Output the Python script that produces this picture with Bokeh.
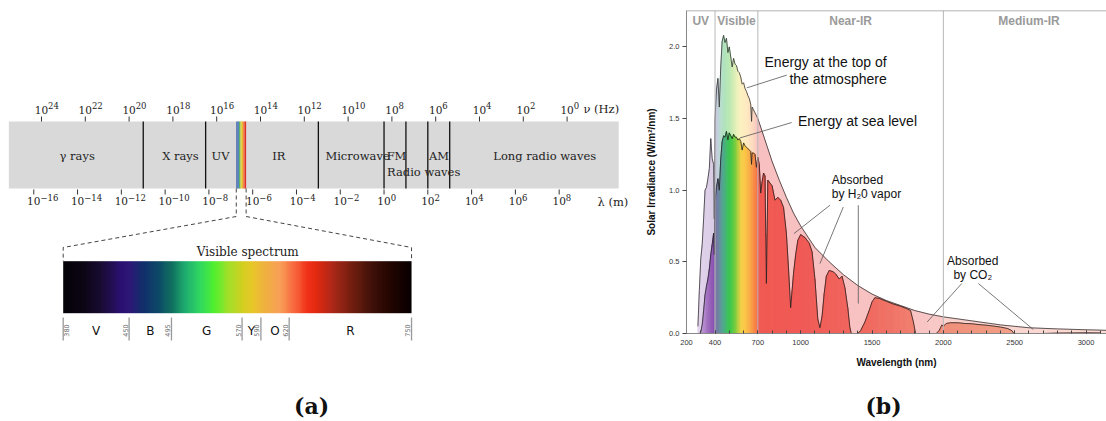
import math
import numpy as np
from bokeh.plotting import figure
from bokeh.layouts import row, column
from bokeh.models import Range1d, FixedTicker, Span, LinearColorMapper, ColumnDataSource
from bokeh.core.properties import value
from bokeh.embed import file_html
from bokeh.resources import INLINE

# ================= DATA : panel (a) =================
freq_exponents = [24, 22, 20, 18, 16, 14, 12, 10, 8, 6, 4, 2, 0]          # log10(nu / Hz)
wavelength_exponents = [-16, -14, -12, -10, -8, -6, -4, -2, 0, 2, 4, 6, 8]  # log10(lambda / m)
band_extent = [-17.14, 10.72]
band_dividers = [-11.0, -8.15, -3.0, 0.0, 1.0, 2.0, 3.0]
visible_slice = [-6.75, -6.30]
band_names = ["γ rays", "X rays", "UV", "IR", "Microwave", "FM", "AM", "Long radio waves"]
band_name_lam = [-14.02, -9.30, -7.47, -4.81, -1.21, 0.57, 2.51, 7.34]
radio_name = "Radio waves"
radio_name_lam = 1.81

vis_bounds_nm = [380, 450, 495, 570, 590, 620, 750]
vis_letters = ["V", "B", "G", "Y", "O", "R"]

# ================= DATA : panel (b) =================
wl_toa = [280, 290, 300, 310, 320, 330, 340, 350, 360, 370, 380, 390, 395, 400, 410, 420, 430, 440,
          450, 460, 470, 480, 490, 500, 510, 520, 530, 540, 550, 560, 570, 580, 590, 600, 610, 620,
          630, 640, 650, 656, 660, 670, 680, 690, 700, 750, 800, 850, 900, 950, 1000, 1100, 1200,
          1300, 1400, 1500, 1600, 1700, 1800, 1900, 2000, 2200, 2400, 2600, 2800, 3000, 3150]
irr_toa = [0.05, 0.30, 0.52, 0.62, 0.80, 1.00, 1.02, 1.08, 1.15, 1.36, 1.22, 1.18, 0.80, 1.50, 1.70,
           1.78, 1.58, 1.86, 2.04, 2.08, 2.03, 2.06, 1.96, 2.00, 1.93, 1.86, 1.92, 1.88, 1.87, 1.83,
           1.82, 1.79, 1.74, 1.75, 1.71, 1.69, 1.66, 1.64, 1.60, 1.48, 1.58, 1.56, 1.54, 1.52, 1.50,
           1.35, 1.20, 1.07, 0.95, 0.84, 0.75, 0.60, 0.50, 0.41, 0.335, 0.275, 0.23, 0.195, 0.16,
           0.135, 0.116, 0.088, 0.060, 0.040, 0.032, 0.026, 0.022]

wl_sea = [290, 300, 310, 320, 330, 340, 350, 360, 370, 380, 390, 395, 400, 410, 420, 430, 440, 450,
          460, 470, 480, 490, 500, 510, 520, 530, 540, 550, 560, 570, 580, 590, 600, 610, 620, 630,
          640, 650, 656, 660, 670, 680, 690, 700, 710, 720, 730, 740, 750, 760, 765, 770, 800, 820,
          840, 860, 880, 900, 915, 930, 940, 950, 965, 980, 1000, 1030, 1060, 1080, 1100, 1120, 1135,
          1150, 1165, 1180, 1200, 1230, 1250, 1270, 1290, 1310, 1330, 1345, 1355, 1400, 1420, 1450,
          1480, 1500, 1520, 1550, 1600, 1650, 1700, 1740, 1770, 1790, 1805, 1950, 1970, 1990, 2000,
          2020, 2050, 2100, 2150, 2200, 2250, 2300, 2350, 2400, 2450, 2480, 2495, 2700, 2800, 2900,
          3000, 3100]
irr_sea = [0.0, 0.01, 0.06, 0.16, 0.27, 0.33, 0.38, 0.45, 0.55, 0.62, 0.70, 0.55, 0.92, 1.02, 1.08,
           1.00, 1.22, 1.34, 1.38, 1.37, 1.41, 1.35, 1.40, 1.38, 1.36, 1.39, 1.37, 1.37, 1.35, 1.36,
           1.34, 1.28, 1.33, 1.31, 1.30, 1.29, 1.28, 1.27, 1.18, 1.26, 1.26, 1.25, 1.16, 1.23, 1.18,
           0.98, 1.06, 1.12, 1.10, 0.35, 0.70, 1.07, 1.03, 0.93, 0.95, 0.93, 0.88, 0.70, 0.45, 0.18,
           0.30, 0.42, 0.55, 0.65, 0.69, 0.67, 0.63, 0.57, 0.38, 0.10, 0.04, 0.12, 0.28, 0.40, 0.44,
           0.43, 0.41, 0.38, 0.40, 0.32, 0.18, 0.04, 0.0, 0.0, 0.02, 0.08, 0.16, 0.22, 0.25, 0.245,
           0.225, 0.205, 0.19, 0.175, 0.16, 0.08, 0.0, 0.0, 0.02, 0.06, 0.05, 0.07, 0.075, 0.075,
           0.07, 0.068, 0.062, 0.058, 0.052, 0.045, 0.035, 0.02, 0.0, 0.0, 0.003, 0.004, 0.005, 0.004]

region_edges = [200, 400, 700, 2000, 3200]
region_names = ["UV", "Visible", "Near-IR", "Medium-IR"]

# ================= STYLE =================
SERIF = "DejaVu Serif"
SANS = "Liberation Sans"

rainbow_colors = ["#3f5fa8", "#4f86c6", "#5cae52", "#dcd83e", "#f2b232", "#f06a30", "#e23028"]

vis_stops = [(380, "#050208"), (400, "#0c0514"), (420, "#1a0c34"), (440, "#2a1070"), (450, "#2c1878"),
             (465, "#10306a"), (480, "#0c4868"), (495, "#107060"), (510, "#20b070"), (525, "#30d860"),
             (540, "#50f030"), (555, "#a0e028"), (570, "#d0d020"), (580, "#e8c828"), (595, "#f0b040"),
             (610, "#f8a058"), (625, "#f86a40"), (640, "#f03018"), (650, "#e02810"), (665, "#b02818"),
             (685, "#782010"), (710, "#3c1008"), (730, "#200400"), (750, "#080000")]

pale_stops = [(280, "#e4d4ec"), (390, "#d8cce4"), (410, "#c8c8e0"), (440, "#b8dcd0"), (470, "#b0e4bc"),
              (500, "#b8e8b4"), (530, "#d0ecb4"), (560, "#eef2bc"), (590, "#fdf0c0"), (630, "#fee8c0"),
              (670, "#fcd8c0"), (700, "#f9c4c0"), (720, "#f8c0c0"), (1900, "#f8c4c4"), (2100, "#fad2ce"),
              (3200, "#fadcd6")]

sat_stops = [(280, "#c8b0dc"), (320, "#b890d0"), (360, "#9c68bc"), (395, "#8850b0"), (405, "#7c70a8"),
             (430, "#6c88a0"), (460, "#50a890"), (490, "#40c060"), (510, "#3cc84c"), (540, "#70cc40"),
             (565, "#b8d040"), (585, "#f0d048"), (610, "#fcc848"), (650, "#f8a848"), (680, "#f88848"),
             (699, "#f87048"), (701, "#f05a52"), (1000, "#f05a56"), (1500, "#f06a60"), (1800, "#f08070"),
             (1950, "#f08c78"), (2500, "#f2a088"), (3200, "#f2a890")]


def hex2rgb(h):
    h = h.lstrip("#")
    return [int(h[i:i + 2], 16) for i in (0, 2, 4)]


def color_at(stops, x):
    xs = [s[0] for s in stops]
    if x <= xs[0]:
        return stops[0][1]
    if x >= xs[-1]:
        return stops[-1][1]
    for i in range(len(xs) - 1):
        if xs[i] <= x <= xs[i + 1]:
            t = (x - xs[i]) / (xs[i + 1] - xs[i])
            a, b = hex2rgb(stops[i][1]), hex2rgb(stops[i + 1][1])
            c = [round(a[k] + (b[k] - a[k]) * t) for k in range(3)]
            return "#%02x%02x%02x" % tuple(c)


def exp_text(e):
    return str(e).replace("-", "−")


TOTAL_H = 421

# ================= PANEL (a) =================
WA = 640
LAM0, LAM1 = -17.521, 11.716          # log10(lambda) at frame edges
pa = figure(width=WA, height=TOTAL_H, x_range=Range1d(LAM0, LAM1), y_range=Range1d(TOTAL_H, 0),
            output_backend="svg", toolbar_location=None, x_axis_location=None, y_axis_location=None,
            min_border=0, outline_line_color=None, background_fill_color="white")
pa.grid.visible = False
pa.extra_x_ranges = {"freq": Range1d(25.872, -3.352), "nm": Range1d(313.4, 993.2)}

BAND_TOP, BAND_BOT = 121, 188
TICK = 5

pa.quad(left=[band_extent[0]], right=[band_extent[1]], top=[BAND_TOP], bottom=[BAND_BOT],
        fill_color="#d9d9d9", line_color=None)
edges = np.linspace(visible_slice[0], visible_slice[1], len(rainbow_colors) + 1)
pa.quad(left=edges[:-1], right=edges[1:], top=BAND_TOP, bottom=BAND_BOT,
        fill_color=rainbow_colors, line_color=None)
pa.segment(x0=band_dividers, y0=BAND_TOP, x1=band_dividers, y1=BAND_BOT, line_color="#111", line_width=1.3)

band_txt = dict(text_baseline="middle", text_font=value(SERIF), text_font_size="11.5px", text_color="#222")
base_txt = dict(text_baseline="middle", text_font=value(SERIF), text_font_size="10.5px", text_color="#222")
sup_txt = dict(text_baseline="middle", text_font=value(SERIF), text_font_size="8.5px", text_color="#222")
pa.text(x=band_name_lam, y=[155] * len(band_names), text=band_names, text_align="center", **band_txt)
pa.text(x=[radio_name_lam], y=[171], text=[radio_name], text_align="center", **band_txt)

# frequency scale (top)
pa.segment(x0=freq_exponents, y0=BAND_TOP - TICK, x1=freq_exponents, y1=BAND_TOP,
           x_range_name="freq", line_color="#333", line_width=1)
pa.text(x=freq_exponents, y=[109.3] * len(freq_exponents), text=["10"] * len(freq_exponents),
        x_range_name="freq", text_align="center", **base_txt)
pa.text(x=freq_exponents, y=[105] * len(freq_exponents), text=[exp_text(e) for e in freq_exponents],
        x_range_name="freq", text_align="left", x_offset=6.6, **sup_txt)
# wavelength scale (bottom)
pa.segment(x0=wavelength_exponents, y0=BAND_BOT + 1, x1=wavelength_exponents, y1=BAND_BOT + 1 + TICK,
           line_color="#333", line_width=1)
pa.text(x=wavelength_exponents, y=[200.5] * len(wavelength_exponents),
        text=["10"] * len(wavelength_exponents), text_align="center", **base_txt)
pa.text(x=wavelength_exponents, y=[196.6] * len(wavelength_exponents),
        text=[exp_text(e) for e in wavelength_exponents], text_align="left", x_offset=6.6, **sup_txt)
pa.text(x=[9.11], y=[108], text=["ν (Hz)"], text_align="left", **band_txt)
pa.text(x=[9.75], y=[201.7], text=["λ (m)"], text_align="left", **band_txt)


def nm_to_lam(nm):
    r = pa.extra_x_ranges["nm"]
    return LAM0 + (nm - r.start) / (r.end - r.start) * (LAM1 - LAM0)


vis_lo, vis_hi = vis_bounds_nm[0], vis_bounds_nm[-1]
SPEC_TOP, SPEC_H = 260.7, 52
pa.multi_line(xs=[[visible_slice[0], visible_slice[0], nm_to_lam(vis_lo), nm_to_lam(vis_lo)],
                  [visible_slice[1], visible_slice[1], nm_to_lam(vis_hi), nm_to_lam(vis_hi)]],
              ys=[[BAND_BOT, 216, 247, SPEC_TOP], [BAND_BOT, 216, 247, SPEC_TOP]],
              line_color="#444", line_width=1, line_dash="4 3")

# visible spectrum gradient image
pal_n = 256
palette = [color_at(vis_stops, vis_lo + (vis_hi - vis_lo) * i / (pal_n - 1)) for i in range(pal_n)]
wl_img = np.arange(vis_lo, vis_hi + 1, dtype=float).reshape(1, -1)
mapper = LinearColorMapper(palette=palette, low=vis_lo, high=vis_hi)
pa.image(image=[wl_img], x=vis_lo, y=SPEC_TOP, dw=vis_hi - vis_lo, dh=SPEC_H, color_mapper=mapper,
         x_range_name="nm")
pa.text(x=[576], y=[251.7], text=["Visible spectrum"], x_range_name="nm", text_align="center",
        text_baseline="middle", text_font=value(SERIF), text_font_size="12px", text_color="#222")

pa.segment(x0=vis_bounds_nm, y0=317, x1=vis_bounds_nm, y1=340, x_range_name="nm",
           line_color="#999", line_width=1.3)
mids = [(vis_bounds_nm[i] + vis_bounds_nm[i + 1]) / 2 for i in range(len(vis_letters))]
pa.text(x=mids, y=[330] * len(mids), text=vis_letters, x_range_name="nm", text_align="center",
        text_baseline="middle", text_font=value("DejaVu Sans"), text_font_size="12px", text_color="#111")
num_offsets = [3.5] + [-4] * (len(vis_bounds_nm) - 1)
pa.text(x=vis_bounds_nm, y=[330] * len(vis_bounds_nm), text=[str(b) for b in vis_bounds_nm],
        x_range_name="nm", angle=math.pi / 2, x_offset=num_offsets, text_align="center",
        text_baseline="middle", text_font=value("DejaVu Sans"), text_font_size="6.5px", text_color="#666")

pa.text(x=[-3.31], y=[405], text=["(a)"], text_align="center", text_baseline="middle",
        text_font=value(SERIF), text_font_style="bold", text_font_size="22px", text_color="#111")

# ================= PANEL (b) =================
WB = 466
HB = 380
PX_NM = 0.1427
PX_VAL = 143.3
LEFT_B = 46
FRAME_W, FRAME_H = WB - LEFT_B, 323
x_end = 200 + FRAME_W / PX_NM
y_end = FRAME_H / PX_VAL
pb = figure(width=WB, height=HB, x_range=Range1d(200, x_end), y_range=Range1d(0, y_end),
            output_backend="svg", toolbar_location=None, min_border_left=LEFT_B, min_border_right=0,
            min_border_top=10, min_border_bottom=HB - 10 - FRAME_H, outline_line_color=None)
pb.grid.visible = False


def seg_patches(wl, val, stops):
    xs, ys, cs = [], [], []
    for i in range(len(wl) - 1):
        xs.append([wl[i], wl[i], wl[i + 1], wl[i + 1]])
        ys.append([0, val[i], val[i + 1], 0])
        cs.append(color_at(stops, 0.5 * (wl[i] + wl[i + 1])))
    return ColumnDataSource(dict(xs=xs, ys=ys, c=cs))


pb.patches("xs", "ys", source=seg_patches(wl_toa, irr_toa, pale_stops), fill_color="c",
           line_color="c", line_width=1.0)
pb.patches("xs", "ys", source=seg_patches(wl_sea, irr_sea, sat_stops), fill_color="c",
           line_color="c", line_width=1.0)
pb.line(wl_toa, irr_toa, line_color="#333", line_width=0.8)
pb.line(wl_sea, irr_sea, line_color="#222", line_width=0.8)

inner_edges = region_edges[1:-1]
pb.segment(x0=inner_edges, y0=0, x1=inner_edges, y1=y_end, line_color="#b8b8b8", line_width=1)
reg_mid = [(region_edges[i] + region_edges[i + 1]) / 2 for i in range(len(region_names))]
pb.text(x=reg_mid, y=[2.179] * len(reg_mid), text=region_names, text_align="center",
        text_baseline="middle", text_font=value(SANS), text_font_style="bold",
        text_font_size="12px", text_color="#9a9a9a")
pb.add_layout(Span(location=y_end, dimension="width", line_color="#999", line_width=1.5))

# annotations
txt = dict(text_font=value(SANS), text_color="#111", text_baseline="middle")
pb.text(x=[1603, 1603], y=[1.893, 1.775], text=["Energy at the top of", "the atmosphere"],
        text_align="right", text_font_size="14px", **txt)
pb.text(x=[981], y=[1.484], text=["Energy at sea level"], text_align="left", text_font_size="14px", **txt)
pb.text(x=[1218, 1218], y=[1.071, 0.971], text=["Absorbed", "by H₂0 vapor"], text_align="left",
        text_font_size="12px", **txt)
pb.text(x=[2206, 2206], y=[0.507, 0.407], text=["Absorbed", "by CO₂"], text_align="center",
        text_font_size="12px", **txt)
pb.segment(x0=[622, 575, 1205, 1299, 1404, 2129, 2245],
           y0=[1.714, 1.365, 0.895, 0.883, 0.895, 0.349, 0.349],
           x1=[902, 937, 953, 1135, 1404, 1887, 2630],
           y1=[1.803, 1.472, 0.697, 0.488, 0.209, 0.081, 0.028],
           line_color="#555", line_width=0.8)

# axes
xa = pb.xaxis[0]
xa.ticker = FixedTicker(ticks=[200, 400, 700, 1000, 1500, 2000, 2500, 3000],
                        minor_ticks=list(range(300, 3200, 100)))
xa.major_tick_in = 3
xa.major_tick_out = 0
xa.minor_tick_in = 3
xa.minor_tick_out = 0
xa.major_tick_line_color = "#444"
xa.minor_tick_line_color = "#444"
xa.axis_line_color = "#888"
xa.major_label_text_font = SANS
xa.major_label_text_font_size = "7.5px"
xa.major_label_text_color = "#333"
xa.major_label_standoff = 6
xa.axis_label = "Wavelength (nm)"
xa.axis_label_text_font = SANS
xa.axis_label_text_font_style = "bold"
xa.axis_label_text_font_size = "10px"
xa.axis_label_text_color = "#111"
xa.axis_label_standoff = 9

ya = pb.yaxis[0]
ya.ticker = FixedTicker(ticks=[0, 0.5, 1.0, 1.5, 2.0])
ya.major_label_overrides = {0: "0.0", 0.5: "0.5", 1.0: "1.0", 1.5: "1.5", 2.0: "2.0"}
ya.major_tick_in = 0
ya.major_tick_out = 4
ya.minor_tick_in = 0
ya.minor_tick_out = 0
ya.major_tick_line_color = "#444"
ya.axis_line_color = "#888"
ya.major_label_text_font = SANS
ya.major_label_text_font_size = "7.5px"
ya.major_label_text_color = "#333"
ya.major_label_standoff = 3
ya.axis_label = "Solar Irradiance (W/m²/nm)"
ya.axis_label_text_font = SANS
ya.axis_label_text_font_style = "bold"
ya.axis_label_text_font_size = "10px"
ya.axis_label_text_color = "#111"
ya.axis_label_standoff = 9

# caption strip under panel (b)
pc = figure(width=WB, height=TOTAL_H - HB, x_range=pb.x_range, y_range=Range1d(TOTAL_H - HB, 0),
            output_backend="svg", toolbar_location=None, x_axis_location=None, y_axis_location=None,
            min_border_left=LEFT_B, min_border_right=0, min_border_top=0, min_border_bottom=0,
            outline_line_color=None)
pc.grid.visible = False
pc.text(x=[200 + (883 - 686) / PX_NM], y=[405 - HB], text=["(b)"], text_align="center",
        text_baseline="middle", text_font=value(SERIF), text_font_style="bold", text_font_size="22px",
        text_color="#111")

layout = row(pa, column(pb, pc))
open("out.html", "w").write(file_html(layout, INLINE))
